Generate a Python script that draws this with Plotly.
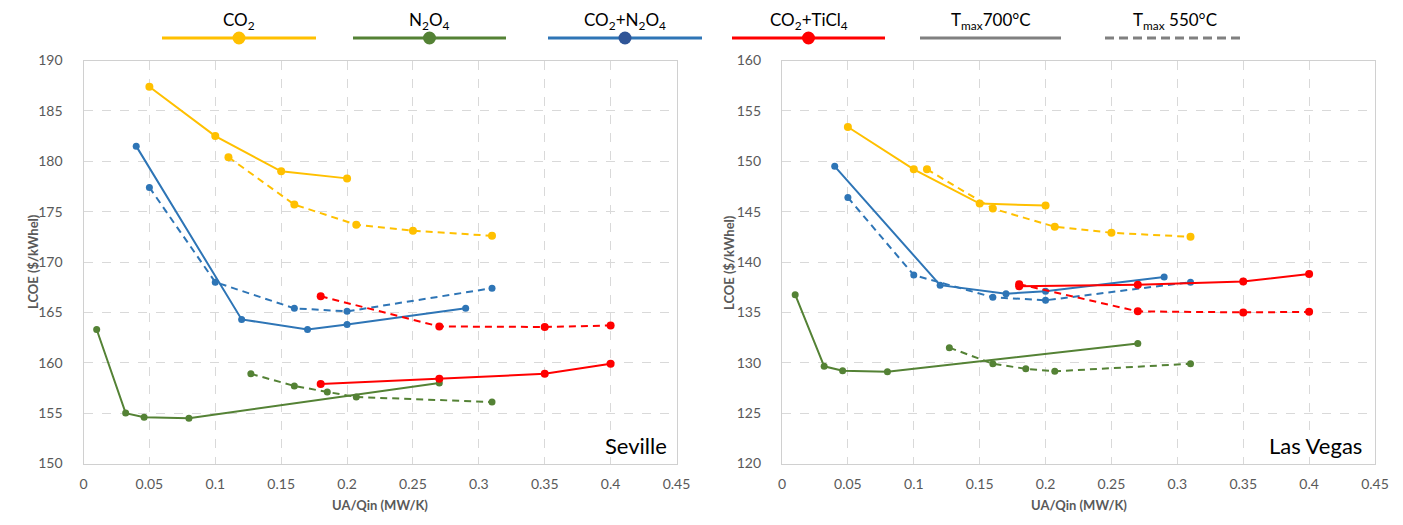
import plotly.graph_objects as go

# ---------------- data ----------------
# Seville
sev_co2_700_x = [0.05, 0.10, 0.15, 0.20]
sev_co2_700_y = [187.4, 182.5, 179.0, 178.3]
sev_co2_550_x = [0.11, 0.16, 0.207, 0.25, 0.31]
sev_co2_550_y = [180.4, 175.7, 173.7, 173.1, 172.6]
sev_n2o4_700_x = [0.01, 0.032, 0.046, 0.08, 0.27]
sev_n2o4_700_y = [163.3, 155.0, 154.6, 154.5, 158.0]
sev_n2o4_550_x = [0.127, 0.16, 0.185, 0.207, 0.31]
sev_n2o4_550_y = [158.9, 157.7, 157.1, 156.6, 156.1]
sev_mix_700_x = [0.04, 0.12, 0.17, 0.20, 0.29]
sev_mix_700_y = [181.5, 164.3, 163.3, 163.8, 165.4]
sev_mix_550_x = [0.05, 0.10, 0.16, 0.20, 0.31]
sev_mix_550_y = [177.4, 168.0, 165.4, 165.1, 167.4]
sev_ticl_700_x = [0.18, 0.27, 0.35, 0.40]
sev_ticl_700_y = [157.9, 158.4, 158.9, 159.9]
sev_ticl_550_x = [0.18, 0.27, 0.35, 0.40]
sev_ticl_550_y = [166.6, 163.6, 163.55, 163.7]

# Las Vegas
lv_co2_700_x = [0.05, 0.10, 0.15, 0.20]
lv_co2_700_y = [153.4, 149.2, 145.8, 145.6]
lv_co2_550_x = [0.11, 0.16, 0.207, 0.25, 0.31]
lv_co2_550_y = [149.2, 145.3, 143.5, 142.9, 142.5]
lv_n2o4_700_x = [0.01, 0.032, 0.046, 0.08, 0.27]
lv_n2o4_700_y = [136.75, 129.65, 129.2, 129.1, 131.9]
lv_n2o4_550_x = [0.127, 0.16, 0.185, 0.207, 0.31]
lv_n2o4_550_y = [131.5, 129.9, 129.4, 129.15, 129.9]
lv_mix_700_x = [0.04, 0.12, 0.17, 0.20, 0.29]
lv_mix_700_y = [149.5, 137.7, 136.85, 137.1, 138.5]
lv_mix_550_x = [0.05, 0.10, 0.16, 0.20, 0.31]
lv_mix_550_y = [146.4, 138.7, 136.5, 136.2, 138.0]
lv_ticl_700_x = [0.18, 0.27, 0.35, 0.40]
lv_ticl_700_y = [137.6, 137.75, 138.07, 138.8]
lv_ticl_550_x = [0.18, 0.27, 0.35, 0.40]
lv_ticl_550_y = [137.8, 135.1, 135.0, 135.05]

city_labels = ["Seville", "Las Vegas"]
y_ranges = [[150, 190], [120, 160]]
legend_labels = ["CO<sub>2</sub>", "N<sub>2</sub>O<sub>4</sub>", "CO<sub>2</sub>+N<sub>2</sub>O<sub>4</sub>",
                 "CO<sub>2</sub>+TiCl<sub>4</sub>", "T<sub>max</sub>700°C", "T<sub>max</sub> 550°C"]

# ---------------- styles ----------------
W, H = 1403, 525
YELLOW = "#FFC000"
GREEN = "#548235"
BLUE = "#2E75B6"
BLUE_DARK = "#2F5597"
RED = "#FF0000"
GRAY = "#808080"
FONT = "Lato, Carlito, 'Open Sans', sans-serif"
TICKC = "#595959"

def px_x(p):
    return p / W

def px_y(p):
    return 1 - p / H

fig = go.Figure()

panels = [
    dict(xa="x", ya="y", data=[
        (sev_co2_700_x, sev_co2_700_y, YELLOW, "solid"),
        (sev_co2_550_x, sev_co2_550_y, YELLOW, "dash"),
        (sev_n2o4_700_x, sev_n2o4_700_y, GREEN, "solid"),
        (sev_n2o4_550_x, sev_n2o4_550_y, GREEN, "dash"),
        (sev_mix_700_x, sev_mix_700_y, BLUE, "solid"),
        (sev_mix_550_x, sev_mix_550_y, BLUE, "dash"),
        (sev_ticl_700_x, sev_ticl_700_y, RED, "solid"),
        (sev_ticl_550_x, sev_ticl_550_y, RED, "dash"),
    ]),
    dict(xa="x2", ya="y2", data=[
        (lv_co2_700_x, lv_co2_700_y, YELLOW, "solid"),
        (lv_co2_550_x, lv_co2_550_y, YELLOW, "dash"),
        (lv_n2o4_700_x, lv_n2o4_700_y, GREEN, "solid"),
        (lv_n2o4_550_x, lv_n2o4_550_y, GREEN, "dash"),
        (lv_mix_700_x, lv_mix_700_y, BLUE, "solid"),
        (lv_mix_550_x, lv_mix_550_y, BLUE, "dash"),
        (lv_ticl_700_x, lv_ticl_700_y, RED, "solid"),
        (lv_ticl_550_x, lv_ticl_550_y, RED, "dash"),
    ]),
]

for p in panels:
    for xs, ys, col, dash in p["data"]:
        fig.add_trace(go.Scatter(
            x=xs, y=ys, xaxis=p["xa"], yaxis=p["ya"], mode="lines+markers",
            line=dict(color=col, width=2, dash="7px,5px" if dash == "dash" else "solid"),
            marker=dict(color=col, size=8 if col in (YELLOW, RED) else 7),
            showlegend=False, hoverinfo="x+y"))

dom_left = [px_x(83.5), px_x(676.5)]
dom_right = [px_x(782), px_x(1375)]
dom_y = [px_y(463.5), px_y(60.5)]

axis_common = dict(showline=True, mirror=True, linecolor="#D0D0D0", linewidth=1.3,
                   showgrid=True, gridcolor="#D9D9D9", griddash="dash", gridwidth=1,
                   zeroline=False, ticks="", automargin=False,
                   tickfont=dict(family=FONT, size=14, color=TICKC))

fig.update_layout(
    template="none",
    width=W, height=H, margin=dict(l=0, r=0, t=0, b=0, pad=0),
    paper_bgcolor="white", plot_bgcolor="white", showlegend=False,
    xaxis=dict(domain=dom_left, range=[0, 0.45], dtick=0.05, anchor="y",
               ticklabelstandoff=8, **axis_common),
    yaxis=dict(domain=dom_y, range=y_ranges[0], dtick=5, anchor="x",
               ticklabelstandoff=17, **axis_common),
    xaxis2=dict(domain=dom_right, range=[0, 0.45], dtick=0.05, anchor="y2",
                ticklabelstandoff=8, **axis_common),
    yaxis2=dict(domain=dom_y, range=y_ranges[1], dtick=5, anchor="x2",
                ticklabelstandoff=17, **axis_common),
)

annotations = []
# axis titles
for cx, ax_left in [((83.5 + 676.5) / 2, 33), ((782 + 1375) / 2, 729)]:
    annotations.append(dict(xref="paper", yref="paper", x=px_x(cx), y=px_y(505),
                            xanchor="center", yanchor="middle",
                            text="<b>UA/Qin (MW/K)</b>", showarrow=False,
                            font=dict(family=FONT, size=13, color=TICKC)))
    annotations.append(dict(xref="paper", yref="paper", x=px_x(ax_left), y=px_y(262),
                            xanchor="center", yanchor="middle",
                            text="<b>LCOE ($/kWhel)</b>", showarrow=False, textangle=-90,
                            font=dict(family=FONT, size=13, color=TICKC)))
# city labels
annotations.append(dict(xref="paper", yref="paper", x=px_x(669), y=px_y(445),
                        xanchor="right", yanchor="middle",
                        text=city_labels[0], showarrow=False,
                        font=dict(family=FONT, size=22, color="black")))
annotations.append(dict(xref="paper", yref="paper", x=px_x(1364), y=px_y(445),
                        xanchor="right", yanchor="middle",
                        text=city_labels[1], showarrow=False,
                        font=dict(family=FONT, size=22, color="black")))

# legend (drawn manually)
shapes = []
leg_items = [
    (legend_labels[0], 162, 316, YELLOW, "solid", True, YELLOW),
    (legend_labels[1], 353, 506, GREEN, "solid", True, GREEN),
    (legend_labels[2], 548, 702, BLUE, "solid", True, BLUE_DARK),
    (legend_labels[3], 732, 885, RED, "solid", True, RED),
    (legend_labels[4], 920, 1061, GRAY, "solid", False, None),
    (legend_labels[5], 1105, 1245, GRAY, "dash", False, None),
]
LEG_LINE_Y = 38
LEG_TEXT_Y = 21
for lab, x0, x1, col, dash, has_m, mcol in leg_items:
    shapes.append(dict(type="line", xref="paper", yref="paper",
                       x0=px_x(x0), x1=px_x(x1), y0=px_y(LEG_LINE_Y), y1=px_y(LEG_LINE_Y),
                       line=dict(color=col, width=3, dash="9px,5px" if dash == "dash" else "solid")))
    cx = (x0 + x1) / 2
    if has_m:
        shapes.append(dict(type="circle", xref="paper", yref="paper",
                           xsizemode="pixel", ysizemode="pixel",
                           xanchor=px_x(cx), yanchor=px_y(LEG_LINE_Y),
                           x0=-6.5, x1=6.5, y0=-6.5, y1=6.5,
                           fillcolor=mcol, line=dict(color=mcol, width=0)))
    annotations.append(dict(xref="paper", yref="paper", x=px_x(cx), y=px_y(LEG_TEXT_Y),
                            xanchor="center", yanchor="middle",
                            text=lab, showarrow=False,
                            font=dict(family=FONT, size=17, color="black")))

fig.update_layout(annotations=annotations, shapes=shapes)

fig.write_html("out.html", config={"displayModeBar": False},
               post_script="document.body.style.margin='0';document.body.style.overflow='hidden';")
